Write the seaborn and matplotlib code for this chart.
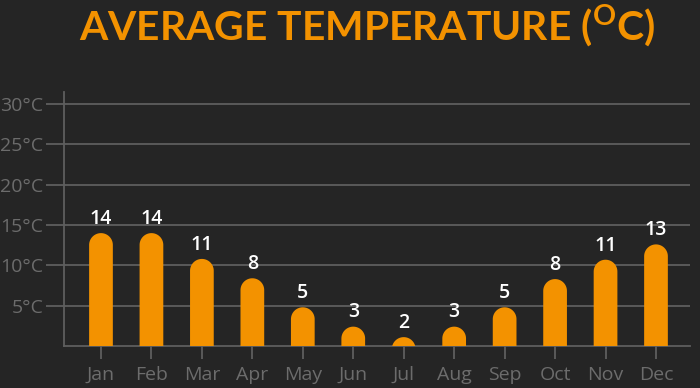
import numpy as np
import seaborn as sns
import matplotlib.pyplot as plt
from matplotlib.patches import PathPatch
from matplotlib.path import Path

months = ["Jan", "Feb", "Mar", "Apr", "May", "Jun", "Jul", "Aug", "Sep", "Oct", "Nov", "Dec"]
temps = [14.0, 14.0, 10.8, 8.4, 4.8, 2.4, 1.1, 2.4, 4.8, 8.3, 10.7, 12.6]
labels = ["14", "14", "11", "8", "5", "3", "2", "3", "5", "8", "11", "13"]
yticks = [5, 10, 15, 20, 25, 30]
ytick_labels = ["5°C", "10°C", "15°C", "20°C", "25°C", "30°C"]

bg = "#252525"
orange = "#F39200"
grid = "#5e5e5e"
tick_col = "#6c6c6c"

sns.set_style("dark")
plt.rcParams["font.family"] = ["Open Sans", "DejaVu Sans"]
plt.rcParams["mathtext.fontset"] = "custom"
plt.rcParams["mathtext.bf"] = "Lato:bold"
plt.rcParams["mathtext.rm"] = "Lato"

fig = plt.figure(figsize=(7, 3.88), dpi=100, facecolor=bg)
ax = fig.add_axes([64 / 700, 42 / 388, 626 / 700, 254 / 388])
ax.set_facecolor(bg)

sns.barplot(x=months, y=temps, color=orange, width=0.47, saturation=1, ax=ax)

xlim = (-0.733, 11.674)
ylim = (0, 31.5)
ax.set_xlim(xlim)
ax.set_ylim(ylim)

# rounded tops: semicircle in pixels, converted to data units
px_x = 626 / (xlim[1] - xlim[0])
px_y = 254 / (ylim[1] - ylim[0])
for p in ax.patches:
    x0, w, h = p.get_x(), p.get_width(), p.get_height()
    rx = w / 2
    ry = rx * px_x / px_y
    cx, cy = x0 + rx, h - ry
    t = np.linspace(np.pi, 0, 40)
    verts = [(x0, 0), (x0, cy)] + list(zip(cx + rx * np.cos(t), cy + ry * np.sin(t))) + [(x0 + w, cy), (x0 + w, 0)]
    ax.add_patch(PathPatch(Path(verts), facecolor=orange, edgecolor="none", zorder=3))
    p.set_visible(False)

ax.bar_label(ax.containers[0], labels=labels, padding=3, color="white",
             fontsize=14, fontweight="semibold")

ax.set_yticks(yticks)
ax.set_yticklabels(ytick_labels)
ax.grid(axis="y", color=grid, linewidth=1.3)
ax.grid(axis="x", visible=False)
ax.set_axisbelow(True)
ax.tick_params(axis="y", length=13, width=1.3, color=grid, labelcolor=tick_col,
               labelsize=14, pad=2, left=True)
ax.tick_params(axis="x", length=9.5, width=1.3, color=grid, labelcolor=tick_col,
               labelsize=14, pad=5, bottom=True)
for side in ["top", "right"]:
    ax.spines[side].set_visible(False)
for side in ["left", "bottom"]:
    ax.spines[side].set_visible(True)
    ax.spines[side].set_color(grid)
    ax.spines[side].set_linewidth(1.3)
ax.set_xlabel("")
ax.set_ylabel("")

title = fig.text(367 / 700, 1 - 40 / 388, r"AVERAGE TEMPERATURE ($^{\mathbf{O}}$C)",
                 color=orange, fontsize=34, fontweight="bold", family=["Lato", "DejaVu Sans"],
                 ha="center", va="baseline")
# shrink to the reference width (~575 px) if needed
fig.canvas.draw()
tw = title.get_window_extent().width
if tw > 575:
    title.set_fontsize(34 * 575 / tw)

plt.savefig("out.png", dpi=100, facecolor=bg)
